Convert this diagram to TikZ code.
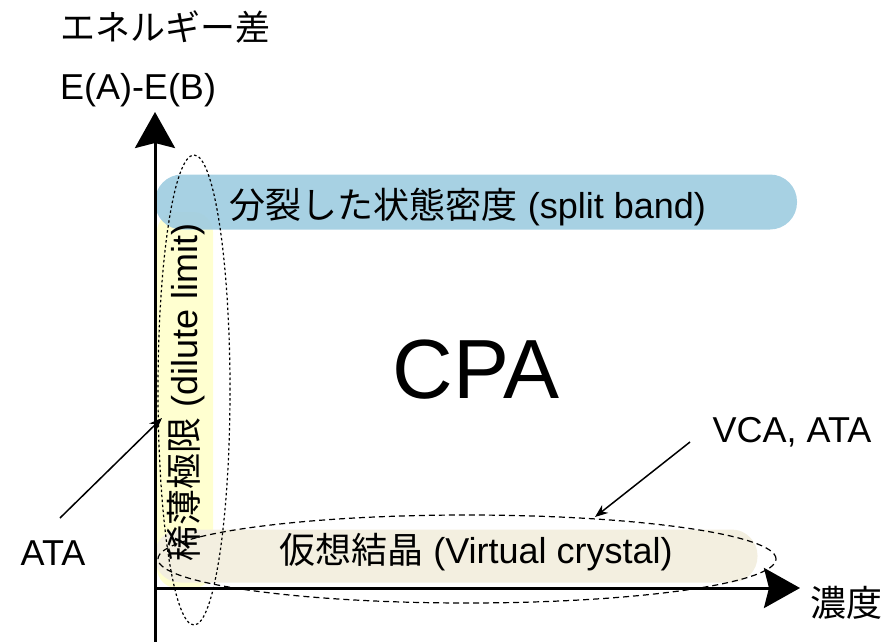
\documentclass[tikz,border=0pt]{standalone}
\usepackage{fontspec}
\setmainfont{Liberation Sans}
\newfontfamily\jp{Noto Sans CJK JP}
\usetikzlibrary{arrows.meta,shapes.geometric}
\definecolor{bandblue}{RGB}{160,205,225}
\definecolor{bandyellow}{RGB}{255,255,208}
\definecolor{bandbeige}{RGB}{243,239,224}
\tikzset{
  lbl/.style={inner sep=0pt, font=\fontsize{36}{40}\selectfont},
  band/.style={draw=none, rounded corners=#1, inner sep=0pt},
  axisline/.style={line width=3pt, -{Stealth[length=36pt,width=40pt,inset=5pt]}},
  pointer/.style={line width=1.5pt, -{Stealth[length=13pt,width=10pt]}},
  dotell/.style={ellipse, draw, line width=1.2pt, dash pattern=on 2.5pt off 2.5pt, inner sep=0pt},
  dashell/.style={ellipse, draw, line width=1.2pt, dash pattern=on 6pt off 4pt, inner sep=0pt}
}
\begin{document}
\begin{tikzpicture}[x=1pt,y=-1pt]
\useasboundingbox (0,0) rectangle (884,642);
% bands
\node[band=20pt, fill=bandyellow, minimum width=56pt, minimum height=376pt] (yb) at (185,400) {};
\node[band=26pt, fill=bandbeige, minimum width=603pt, minimum height=53pt] (bb) at (456,556) {};
\node[band=27pt, fill=bandblue, fill opacity=0.92, minimum width=642pt, minimum height=55pt] (blb) at (476,202) {};
% axes
\coordinate (ybot) at (155,642);
\coordinate (ytip) at (155,112);
\coordinate (orig) at (155,588);
\coordinate (xtip) at (800,588);
\draw[axisline] (ybot) -- (ytip);
\draw[axisline] (orig) -- (xtip);
% ellipses
\node[dotell, minimum width=72pt, minimum height=470pt] (e1) at (194,390) {};
\node[dashell, minimum width=618pt, minimum height=88pt] (e2) at (467,559) {};
% texts
\node[lbl, font=\fontsize{35}{40}\selectfont] (ylab1) at (165,27) {\jp エネルギー差};
\node[lbl] (ylab2) at (138,90) {E(A)-E(B)};
\node[lbl] (xlab) at (846,603) {\jp 濃度};
\node[lbl] (tsplit) at (468,207) {{\jp 分裂した状態密度} (split band)};
\node[lbl] (tvirt) at (476,552) {{\jp 仮想結晶} (Virtual crystal)};
\node[lbl, rotate=90] (tdil) at (186,392) {{\jp 稀薄極限} (dilute limit)};
\node[inner sep=0pt, font=\fontsize{84}{92}\selectfont] (cpa) at (476,370) {CPA};
\node[lbl] (ata) at (53,553) {ATA};
\node[lbl] (vca) at (792,432) {VCA, ATA};
% pointers
\coordinate (ataS) at (60,518);
\coordinate (ataE) at (162,418);
\coordinate (vcaS) at (690,442);
\coordinate (vcaE) at (595,517);
\draw[pointer] (ataS) -- (ataE);
\draw[pointer] (vcaS) -- (vcaE);
\end{tikzpicture}
\end{document}
